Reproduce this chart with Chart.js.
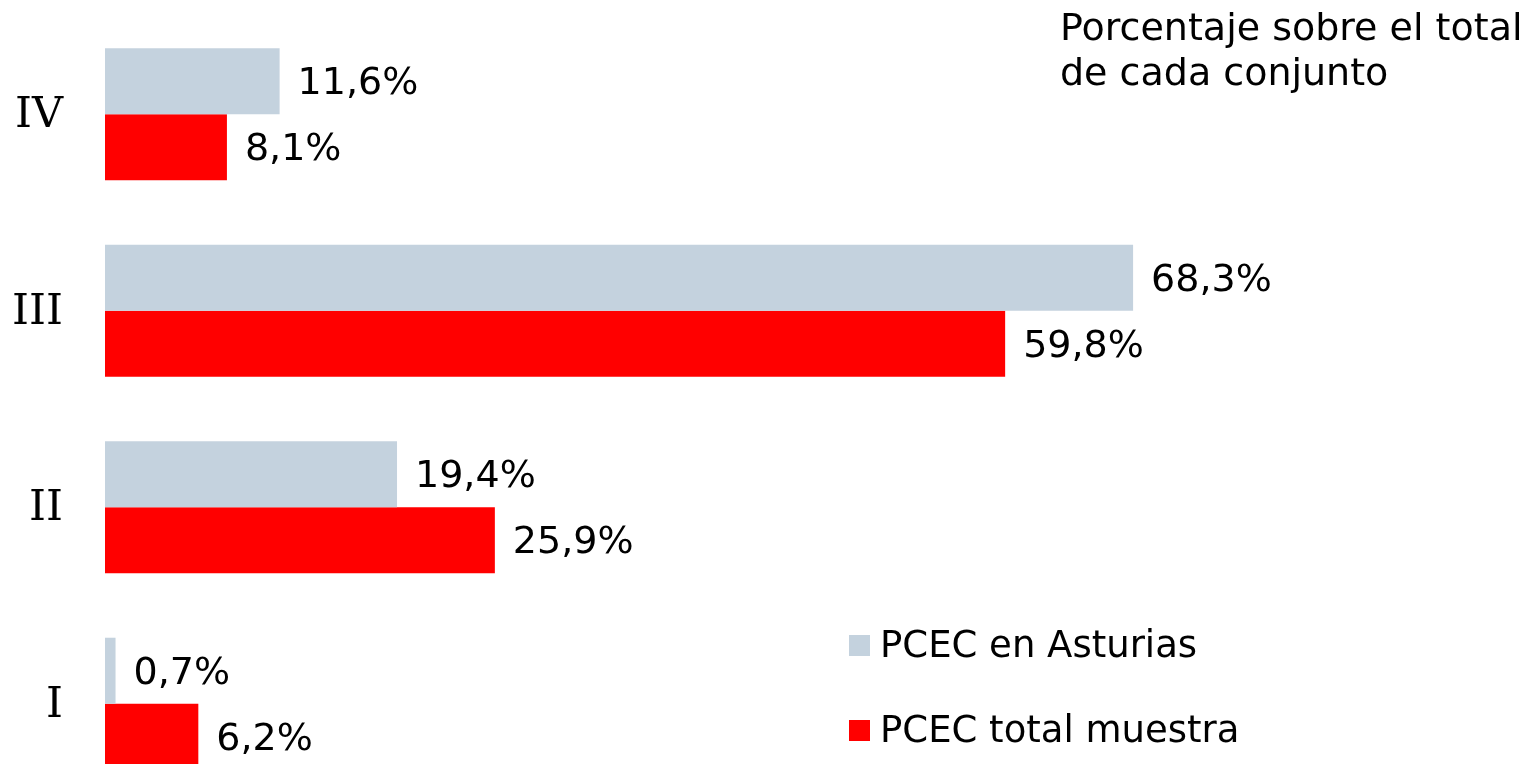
<!DOCTYPE html>
<html>
<head>
<meta charset="utf-8">
<script src="https://cdn.jsdelivr.net/npm/chart.js@4.4.0/dist/chart.umd.min.js"></script>
<style>
  html, body { margin: 0; padding: 0; background: #fff; overflow: hidden; }
  #frame { width: 1535px; height: 764px; overflow: hidden; }
  #wrap { position: relative; width: 1535px; height: 802px; }
</style>
</head>
<body>
<div id="frame"><div id="wrap"><canvas id="chart"></canvas></div></div>
<script>
const categories = ['IV', 'III', 'II', 'I'];
const asturias = [11.6, 68.3, 19.4, 0.7];
const totalMuestra = [8.1, 59.8, 25.9, 6.2];
const seriesNames = ['PCEC en Asturias', 'PCEC total muestra'];
const seriesColors = ['#C4D2DE', '#FF0000'];
const noteLines = ['Porcentaje sobre el total', 'de cada conjunto'];

const textFont = '38px "DejaVu Sans", Verdana, sans-serif';
const legendFont = '37px "DejaVu Sans", Verdana, sans-serif';

// value labels right of each bar, e.g. "11,6%"
const valueLabels = {
  id: 'valueLabels',
  afterDatasetsDraw(chart) {
    const ctx = chart.ctx;
    ctx.save();
    ctx.font = textFont;
    ctx.fillStyle = '#000';
    ctx.textAlign = 'left';
    ctx.textBaseline = 'middle';
    chart.data.datasets.forEach((ds, i) => {
      chart.getDatasetMeta(i).data.forEach((bar, j) => {
        const txt = ds.data[j].toFixed(1).replace('.', ',') + '%';
        ctx.fillText(txt, bar.x + 18, bar.y + 3);
      });
    });
    ctx.restore();
  }
};

// note in the top right and the legend in the bottom right
const extras = {
  id: 'extras',
  afterDraw(chart) {
    const ctx = chart.ctx;
    ctx.save();
    ctx.font = textFont;
    ctx.fillStyle = '#000';
    ctx.textAlign = 'left';
    ctx.textBaseline = 'alphabetic';
    noteLines.forEach((line, i) => ctx.fillText(line, 1060, 40 + i * 45));

    ctx.font = legendFont;
    chart.data.datasets.forEach((ds, i) => {
      const y = 646 + i * 85;
      ctx.fillStyle = ds.backgroundColor;
      ctx.fillRect(849, y - 11, 21, 21);
      ctx.fillStyle = '#000';
      ctx.textBaseline = 'middle';
      ctx.fillText(ds.label, 880, y + 1);
    });
    ctx.restore();
  }
};

new Chart(document.getElementById('chart'), {
  type: 'bar',
  data: {
    labels: categories,
    datasets: [
      { label: seriesNames[0], data: asturias, backgroundColor: seriesColors[0] },
      { label: seriesNames[1], data: totalMuestra, backgroundColor: seriesColors[1] }
    ]
  },
  options: {
    indexAxis: 'y',
    responsive: true,
    maintainAspectRatio: false,
    animation: false,
    categoryPercentage: 0.672,
    barPercentage: 1.0,
    layout: { padding: { top: 16, bottom: 0, left: 0, right: 0 } },
    plugins: {
      legend: { display: false },
      tooltip: { enabled: false }
    },
    scales: {
      x: { display: false, min: 0, max: 95 },
      y: {
        grid: { display: false },
        border: { display: false },
        afterFit: (axis) => {
          axis.width = 105;
          axis.paddingTop = 0;
          axis.paddingBottom = 0;
        },
        ticks: {
          padding: 34,
          labelOffset: 2,
          color: '#000',
          font: { family: '"DejaVu Serif", Georgia, serif', size: 43 }
        }
      }
    }
  },
  plugins: [valueLabels, extras]
});
</script>
</body>
</html>
